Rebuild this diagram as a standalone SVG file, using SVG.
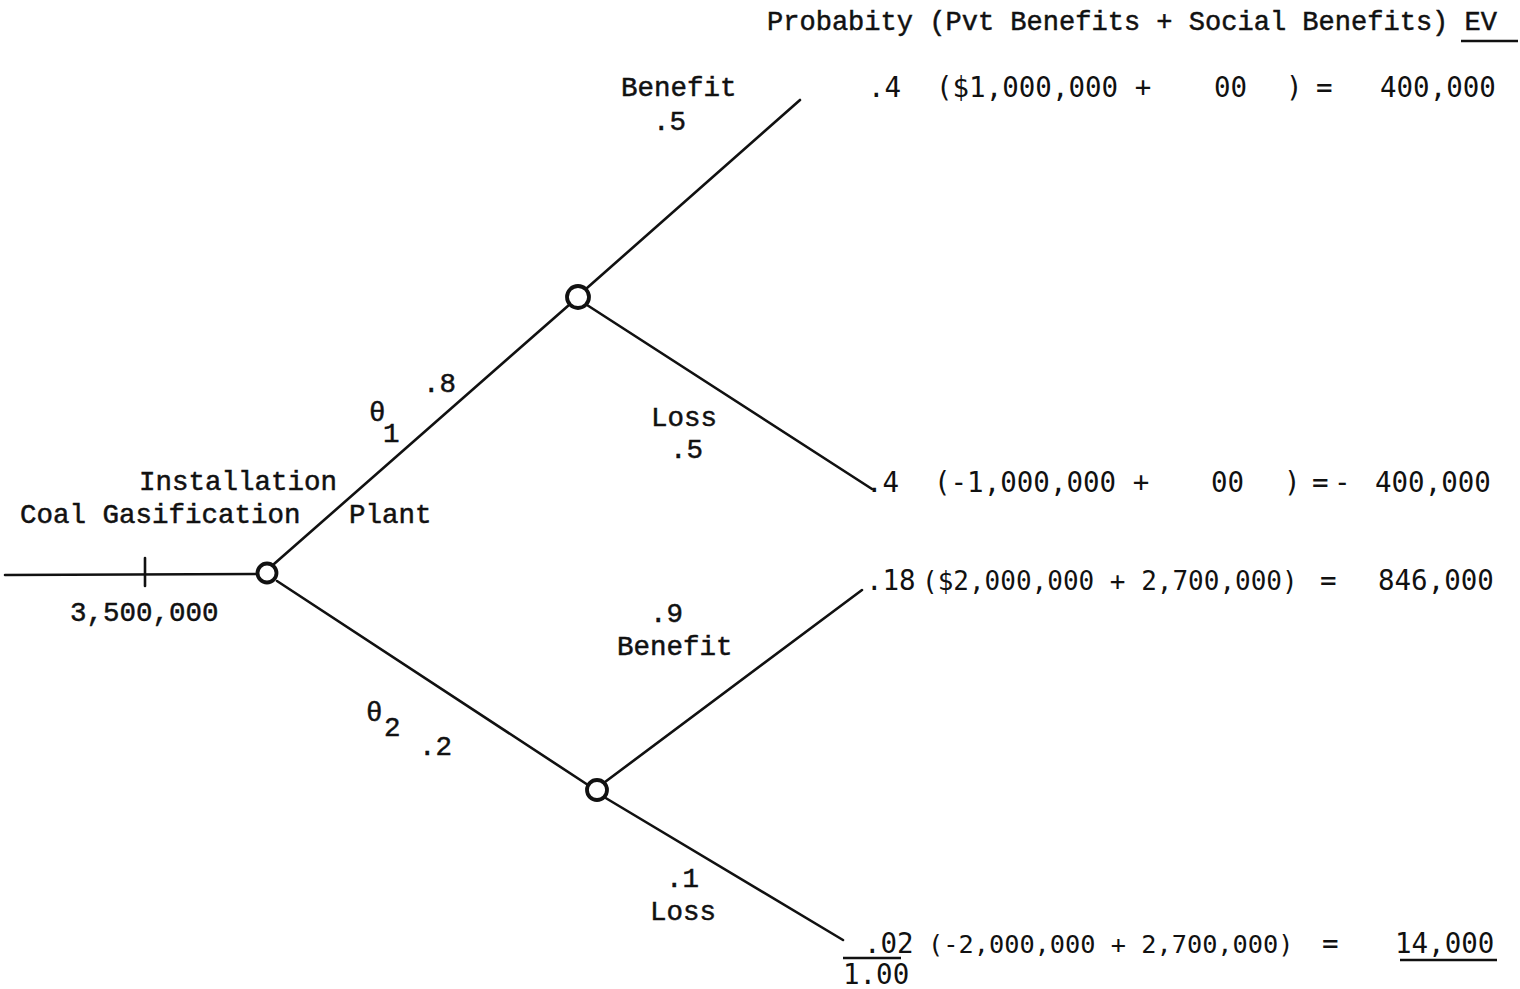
<svg xmlns="http://www.w3.org/2000/svg" width="1520" height="989" viewBox="0 0 1520 989">
<style>
.tw{font-family:"Liberation Mono","Courier New",monospace;font-size:27.5px;fill:#111;stroke:#111;stroke-width:0.5}
.gs{font-family:"DejaVu Sans Mono","Liberation Mono",monospace;font-size:27.5px;fill:#111}
.ln{stroke:#111;stroke-width:2.6;fill:none;stroke-linecap:round}
.nd{stroke:#111;stroke-width:3.8;fill:none}
.ul{stroke:#111;stroke-width:2.4}
</style>
<rect width="1520" height="989" fill="#fff"/>
<g id="header">
<text class="tw" x="767" y="30" textLength="730" lengthAdjust="spacingAndGlyphs">Probabity (Pvt Benefits + Social Benefits) EV</text>
<line class="ul" x1="1461" y1="41" x2="1518" y2="41"/>
</g>
<g id="connectors">
<line class="ln" x1="5" y1="575" x2="257" y2="574"/>
<line class="ln" x1="145" y1="558" x2="145" y2="586"/>
<line class="ln" x1="274" y1="564" x2="569" y2="305"/>
<line class="ln" x1="277" y1="581" x2="588" y2="785"/>
<line class="ln" x1="587" y1="288" x2="800" y2="100"/>
<line class="ln" x1="587" y1="305" x2="872" y2="489"/>
<line class="ln" x1="605" y1="782" x2="862" y2="590"/>
<line class="ln" x1="604" y1="797" x2="843" y2="940"/>
</g>
<g id="root-decision">
<circle class="nd" cx="267" cy="573" r="9.5"/>
<text class="tw" x="139" y="490">Installation</text>
<text class="tw" x="20" y="523">Coal Gasification</text>
<text class="tw" x="349" y="523">Plant</text>
<text class="tw" x="70" y="621">3,500,000</text>
</g>
<g id="theta1-label">
<text class="tw" x="423" y="392">.8</text>
<text class="tw" x="369" y="421">θ</text>
<text class="tw" x="383" y="442">1</text>
</g>
<g id="theta2-label">
<text class="tw" x="366" y="721">θ</text>
<text class="tw" x="384" y="736">2</text>
<text class="tw" x="419" y="755">.2</text>
</g>
<g id="chance-node-1">
<circle class="nd" cx="578" cy="297" r="11"/>
<text class="tw" x="621" y="96">Benefit</text>
<text class="tw" x="653" y="130">.5</text>
<text class="tw" x="651" y="426">Loss</text>
<text class="tw" x="670" y="458">.5</text>
</g>
<g id="chance-node-2">
<circle class="nd" cx="597" cy="790" r="10"/>
<text class="tw" x="650" y="622">.9</text>
<text class="tw" x="617" y="655">Benefit</text>
<text class="tw" x="666" y="887">.1</text>
<text class="tw" x="650" y="920">Loss</text>
</g>
<g id="outcome-1">
<text class="gs" y="97"><tspan x="868">.4</tspan><tspan x="936">($1,000,000 +</tspan><tspan x="1214">00</tspan><tspan x="1286">)</tspan><tspan x="1316">=</tspan><tspan x="1380">400,000</tspan></text>
</g>
<g id="outcome-2">
<text class="gs" y="492"><tspan x="866">.4</tspan><tspan x="934">(-1,000,000 +</tspan><tspan x="1211">00</tspan><tspan x="1284">)</tspan><tspan x="1312">=</tspan><tspan x="1334">-</tspan><tspan x="1375">400,000</tspan></text>
</g>
<g id="outcome-3">
<text class="gs" y="590"><tspan x="866">.18</tspan></text>
<text class="gs" x="922" y="590" style="font-size:26px">($2,000,000 + 2,700,000)</text>
<text class="gs" y="590"><tspan x="1320">=</tspan><tspan x="1378">846,000</tspan></text>
</g>
<g id="outcome-4">
<text class="gs" x="864" y="953">.02</text>
<text class="gs" x="928" y="953" style="font-size:25.3px">(-2,000,000 + 2,700,000)</text>
<text class="gs" y="953"><tspan x="1322">=</tspan><tspan x="1395">14,000</tspan></text>
<line class="ul" x1="843" y1="958" x2="901" y2="958"/>
<line class="ul" x1="1400" y1="960" x2="1497" y2="960"/>
<text class="gs" x="843" y="984">1.00</text>
</g>
</svg>
